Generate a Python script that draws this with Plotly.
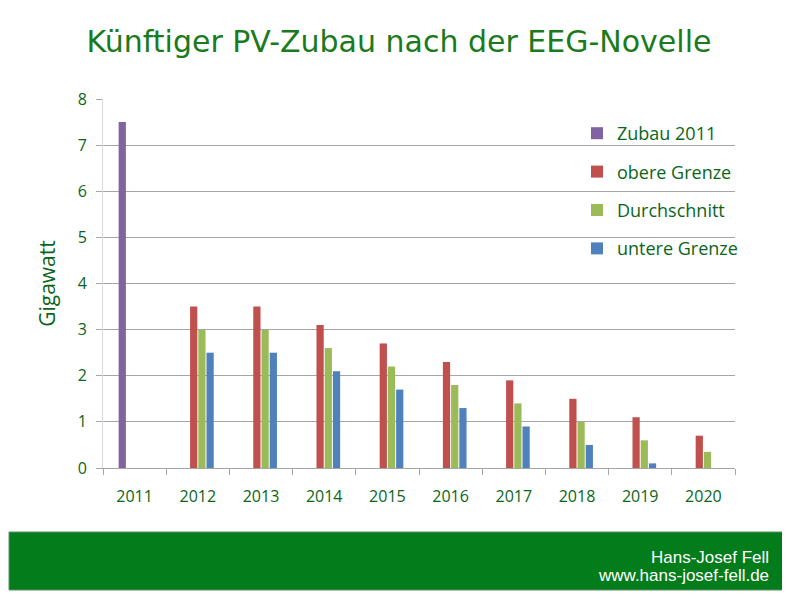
import plotly.graph_objects as go

years = ["2011", "2012", "2013", "2014", "2015", "2016", "2017", "2018", "2019", "2020"]
zubau_2011 = [7.5, None, None, None, None, None, None, None, None, None]
obere_grenze = [None, 3.5, 3.5, 3.1, 2.7, 2.3, 1.9, 1.5, 1.1, 0.7]
durchschnitt = [None, 3.0, 3.0, 2.6, 2.2, 1.8, 1.4, 1.0, 0.6, 0.35]
untere_grenze = [None, 2.5, 2.5, 2.1, 1.7, 1.3, 0.9, 0.5, 0.1, None]

TXT = "#0a661a"
FONT = "Open Sans, DejaVu Sans, sans-serif"

# page has an 8px body margin, so the figure is drawn 8px smaller and offset
OFF = 8
W, H = 790 - OFF, 599 - OFF
L, T = 103 - OFF, 99 - OFF
PW, PH = 632, 369


def px_x(x):
    return (x - OFF - L) / PW


def px_y(y):
    return (T + PH - (y - OFF)) / PH


series = [
    ("Zubau 2011", zubau_2011, "#8064A2"),
    ("obere Grenze", obere_grenze, "#C0504D"),
    ("Durchschnitt", durchschnitt, "#9BBB59"),
    ("untere Grenze", untere_grenze, "#4F81BD"),
]

fig = go.Figure()
for i, (name, vals, col) in enumerate(series):
    fig.add_trace(go.Bar(
        x=years, y=vals, name=name, legendgroup=f"g{i}",
        marker=dict(color=col, line=dict(width=0)),
    ))

fig.update_layout(
    width=W, height=H,
    margin=dict(l=L, r=W - L - PW, t=T, b=H - T - PH),
    paper_bgcolor="white", plot_bgcolor="white",
    barmode="group", bargap=0.48, bargroupgap=0.12,
    title=dict(text="Künftiger PV-Zubau nach der EEG-Novelle", x=0.5, xanchor="center",
               y=1 - (41 - OFF) / H, yanchor="middle",
               font=dict(family="DejaVu Sans, Verdana, sans-serif", size=30, color="#1a7a1c")),
    legend=dict(x=px_x(577), y=px_y(115), xanchor="left", yanchor="top", bgcolor="rgba(0,0,0,0)",
                font=dict(family=FONT, size=18, color=TXT), tracegroupgap=12,
                itemwidth=30),
    font=dict(family=FONT, color=TXT),
    showlegend=True,
)

fig.update_yaxes(
    range=[0, 8], dtick=1, showgrid=True, gridcolor="#a6a6a6", gridwidth=1,
    zeroline=False, showline=True, linecolor="#d9d9d9", linewidth=1,
    ticks="outside", ticklen=6, tickcolor="#a6a6a6",
    tickfont=dict(size=16, color=TXT), ticklabelstandoff=6,
    title=dict(text="Gigawatt", font=dict(size=21, color=TXT), standoff=16),
)
fig.update_xaxes(
    type="category", showline=True, linecolor="#a6a6a6", linewidth=1,
    ticks="outside", tickson="boundaries", ticklen=6, tickcolor="#a6a6a6",
    tickfont=dict(size=16, color=TXT), showgrid=False, ticklabelstandoff=14,
)

# footer bar
fig.add_shape(type="rect", xref="paper", yref="paper",
              x0=px_x(9), x1=px_x(787), y0=px_y(590), y1=px_y(532),
              fillcolor="#037c1b", line=dict(color="#5f8f6a", width=1), layer="below")
for txt, yy in [("Hans-Josef Fell", 557), ("www.hans-josef-fell.de", 575)]:
    fig.add_annotation(xref="paper", yref="paper", x=px_x(771), y=px_y(yy),
                       xanchor="right", yanchor="middle", showarrow=False, text=txt,
                       font=dict(family="Liberation Sans, sans-serif", size=17, color="white"))

fig.write_html("out.html")
